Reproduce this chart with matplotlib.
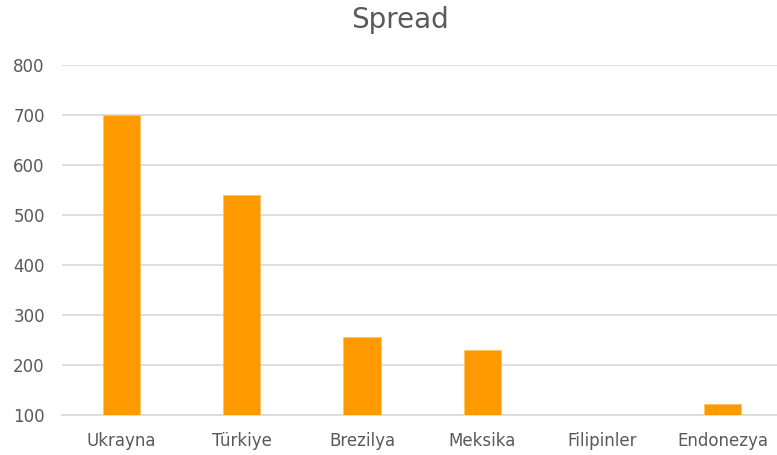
import matplotlib.pyplot as plt
import numpy as np

countries = ['Ukrayna', 'Türkiye', 'Brezilya', 'Meksika', 'Filipinler', 'Endonezya']
spread = [700, 540, 256, 230, 100, 122]
yticks = [100, 200, 300, 400, 500, 600, 700, 800]

text_color = '#595959'
bar_color = '#FF9900'

fig = plt.figure(figsize=(7.77, 4.55), dpi=100)
ax = fig.add_axes([0.0792, 0.0879, 0.928, 0.770])

x = np.arange(len(countries))
ax.bar(x, spread, width=0.31, bottom=0, color=bar_color, edgecolor='#FFC266', linewidth=0.6, zorder=3)

ax.set_xlim(-0.5, len(countries) - 0.5)
ax.set_ylim(100, 800)
ax.set_yticks(yticks)
ax.set_xticks(x)
ax.set_xticklabels(countries)
ax.grid(axis='y', color='#D9D9D9', linewidth=1.2, zorder=0)
ax.set_axisbelow(True)

for s in ['top', 'right', 'left']:
    ax.spines[s].set_visible(False)
ax.spines['bottom'].set_color('#D9D9D9')
ax.spines['bottom'].set_linewidth(1.2)

ax.tick_params(axis='both', length=0, labelsize=12, labelcolor=text_color)
ax.tick_params(axis='y', pad=12)
ax.tick_params(axis='x', pad=12)

fig.text(0.515, 0.955, 'Spread', ha='center', va='center', fontsize=20, color=text_color)

fig.savefig('out.png', dpi=100)
